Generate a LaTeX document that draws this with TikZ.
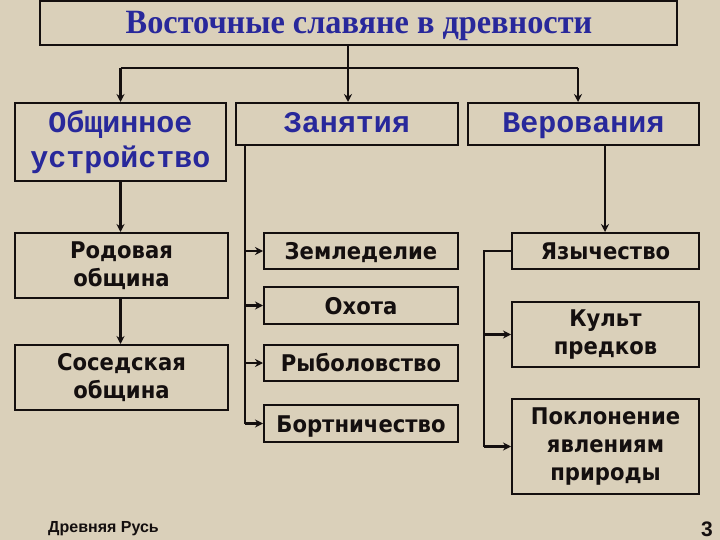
\documentclass[tikz,border=0pt]{standalone}
\usepackage{fontspec}
\usetikzlibrary{arrows.meta}
\newfontfamily\boxfont{DejaVu Sans}[FakeStretch=0.92]
\newfontfamily\titlefont{Liberation Serif}[FakeStretch=0.95]
\newfontfamily\bluemono{Liberation Mono}
\newfontfamily\footfont{Liberation Sans}
\definecolor{bgbeige}{RGB}{218,208,186}
\definecolor{titleblue}{RGB}{40,40,155}
\definecolor{inkblack}{RGB}{20,15,15}
\tikzset{
  bx/.style={draw=inkblack, line width=2pt, inner sep=0pt, align=center, text=inkblack,
    font=\boxfont\bfseries\fontsize{23}{28}\selectfont},
  onebx/.style={bx, text height=22pt, text depth=5pt},
  monobx/.style={bx, text=titleblue, font=\bluemono\bfseries\fontsize{30}{35}\selectfont},
  onemono/.style={monobx, text height=24pt, text depth=6pt},
  conn/.style={draw=inkblack, line width=2.2pt},
  arr/.style={conn, -{Stealth[length=8pt,width=8pt]}},
}
\begin{document}
\begin{tikzpicture}[x=1pt,y=-1pt]
\fill[bgbeige] (0,0) rectangle (720,540);
\useasboundingbox (0,0) rectangle (720,540);
% title
\node[draw=inkblack, line width=2pt, inner sep=0pt, minimum width=637pt, minimum height=44pt] (title) at (358.5,23) {};
\node[text=titleblue, inner sep=0pt, anchor=base, font=\titlefont\bfseries\fontsize{34}{38}\selectfont] (titletext) at (359,34) {Восточные славяне в древности};
% row 1
\node[monobx, minimum width=211pt, minimum height=78pt] (A) at (120.5,142) {Общинное\\устройство};
\node[onemono, minimum width=222pt, minimum height=42pt] (B) at (347,124) {Занятия};
\node[onemono, minimum width=231pt, minimum height=42pt] (C) at (583.5,124) {Верования};
% left column
\node[bx, minimum width=213pt, minimum height=65pt] (R) at (121.5,265.5) {Родовая\\община};
\node[bx, minimum width=213pt, minimum height=65pt] (S) at (121.5,377.5) {Соседская\\община};
% middle column
\node[onebx, minimum width=194pt, minimum height=36pt] (Zem) at (361,251) {Земледелие};
\node[onebx, minimum width=194pt, minimum height=37pt] (Oh) at (361,305.5) {Охота};
\node[onebx, minimum width=194pt, minimum height=36pt] (Ryb) at (361,363) {Рыболовство};
\node[onebx, minimum width=194pt, minimum height=37pt] (Bort) at (361,423.5) {Бортничество};
% right column
\node[onebx, minimum width=187pt, minimum height=36pt] (Yaz) at (605.5,251) {Язычество};
\node[bx, minimum width=187pt, minimum height=65pt] (Kult) at (605.5,334.5) {Культ\\предков};
\node[bx, minimum width=187pt, minimum height=95pt] (Pokl) at (605.5,446.5) {Поклонение\\явлениям\\природы};
% footer
\node[font=\footfont\bfseries\fontsize{16}{18}\selectfont, text=inkblack, anchor=base west, inner sep=0pt] (foot) at (48,532) {Древняя Русь};
\node[font=\footfont\bfseries\fontsize{21}{24}\selectfont, text=inkblack, anchor=base east, inner sep=0pt] (pg) at (713,536) {3};
% connectors: top
\coordinate (hub) at (348,68);
\coordinate (cx) at (578,0);
\draw[conn] (title.south -| hub) -- (hub);
\draw[conn] (hub -| A.north) -- (hub -| cx);
\draw[arr] (hub -| A.north) -- (A.north);
\draw[arr] (hub) -- (B.north -| hub);
\draw[arr] (hub -| cx) -- (C.north -| cx);
% left column
\draw[arr] (A.south) -- (A.south |- R.north);
\draw[arr] (R.south -| A.south) -- (A.south |- S.north);
% middle column
\coordinate (zt) at (245,0);
\draw[conn] (B.south -| zt) -- (zt |- Bort.west);
\draw[arr] (zt |- Zem.west) -- (Zem.west);
\draw[arr] (zt |- Oh.west) -- (Oh.west);
\draw[arr] (zt |- Ryb.west) -- (Ryb.west);
\draw[arr] (zt |- Bort.west) -- (Bort.west);
% right column
\coordinate (vt) at (605,0);
\draw[arr] (C.south -| vt) -- (Yaz.north -| vt);
\coordinate (pt) at (484,0);
\draw[conn] (Yaz.west) -- (Yaz.west -| pt) -- (pt |- Pokl.west);
\draw[arr] (pt |- Kult.west) -- (Kult.west);
\draw[arr] (pt |- Pokl.west) -- (Pokl.west);
\end{tikzpicture}
\end{document}
